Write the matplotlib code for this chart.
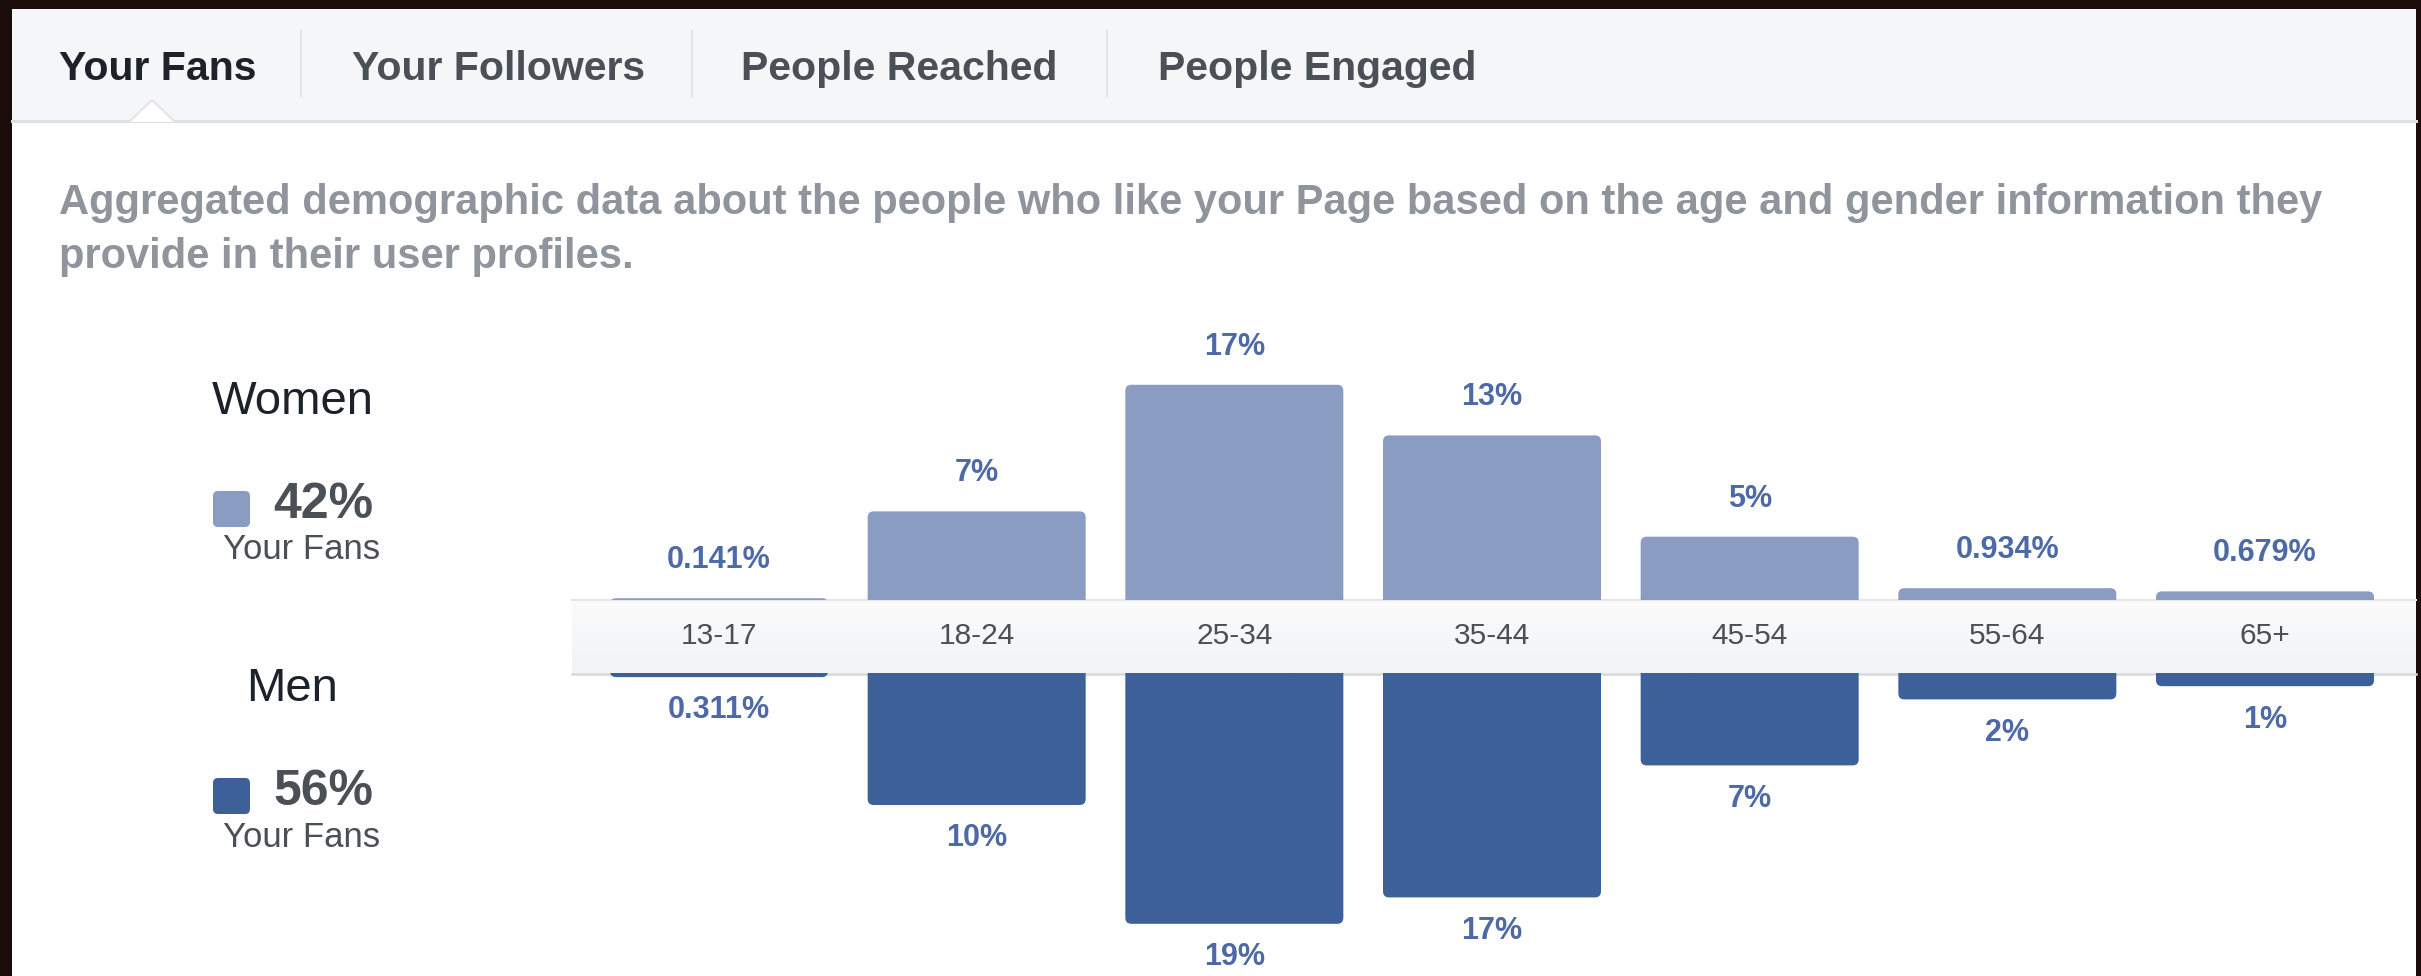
import numpy as np
import matplotlib
matplotlib.use("Agg")
import matplotlib.pyplot as plt
from matplotlib.patches import Rectangle, FancyBboxPatch, Polygon

plt.rcParams['font.family'] = ['Liberation Sans', 'DejaVu Sans']

# Dados
faixas = ['13-17', '18-24', '25-34', '35-44', '45-54', '55-64', '65+']
mulheres = [0.141, 7, 17, 13, 5, 0.934, 0.679]
homens = [0.311, 10, 19, 17, 7, 2, 1]
rot_mulheres = ['0.141%', '7%', '17%', '13%', '5%', '0.934%', '0.679%']
rot_homens = ['0.311%', '10%', '19%', '17%', '7%', '2%', '1%']

abas = ['Your Fans', 'Your Followers', 'People Reached', 'People Engaged']
descricao = ['Aggregated demographic data about the people who like your Page based on the age and gender information they',
             'provide in their user profiles.']
total_mulheres = '42%'
total_homens = '56%'

cor_mulheres = '#8a9cc2'
cor_homens = '#3c6097'
cor_rotulo = '#4d6aa6'

W, H = 2421, 976
fig = plt.figure(figsize=(W / 100, H / 100), dpi=100)
fig.patch.set_facecolor('#1a0c08')

# fundo em pixels
bg = fig.add_axes([0, 0, 1, 1])
bg.set_xlim(0, W)
bg.set_ylim(H, 0)
bg.axis('off')

bg.add_patch(Rectangle((12, 9), 2416 - 12, H - 9, facecolor='white', edgecolor='none'))
bg.add_patch(Rectangle((12, 9), 2416 - 12, 111, facecolor='#f5f6f7', edgecolor='none'))
bg.plot([12, 2416], [121, 121], color='#dddfe2', lw=2.2)
# seta da aba ativa
bg.add_patch(Polygon([[130, 122], [152, 100], [174, 122]], closed=True, facecolor='white', edgecolor='none', zorder=3))
bg.plot([130, 152, 174], [121, 100, 121], color='#e2e4e8', lw=1.5, zorder=4)

# abas
x_abas = [59, 352, 741, 1158]
for i, (txt, xa) in enumerate(zip(abas, x_abas)):
    bg.text(xa, 80, txt, fontsize=29.5, fontweight='bold', va='baseline', ha='left',
            color='#1d2129' if i == 0 else '#4b4f56')
for xs in [301, 692, 1107]:
    bg.plot([xs, xs], [31, 96], color='#e3e5e8', lw=1.5)

bg.text(59, 214, descricao[0], fontsize=30, fontweight='bold', color='#90949c', va='baseline')
bg.text(59, 268, descricao[1], fontsize=30, fontweight='bold', color='#90949c', va='baseline')

# legenda lateral
bg.text(212, 414, 'Women', fontsize=34, color='#1d2129', va='baseline')
bg.add_patch(FancyBboxPatch((213, 491), 37, 36, boxstyle='round,pad=0,rounding_size=5',
                            facecolor=cor_mulheres, edgecolor='none'))
bg.text(273, 518, total_mulheres, fontsize=36, fontweight='bold', color='#4b4f56', va='baseline')
bg.text(223, 559, 'Your Fans', fontsize=25, color='#4b4f56', va='baseline')

bg.text(246, 701, 'Men', fontsize=34, color='#1d2129', va='baseline')
bg.add_patch(FancyBboxPatch((213, 778), 37, 36, boxstyle='round,pad=0,rounding_size=5',
                            facecolor=cor_homens, edgecolor='none'))
bg.text(273, 805, total_homens, fontsize=36, fontweight='bold', color='#4b4f56', va='baseline')
bg.text(223, 847, 'Your Fans', fontsize=25, color='#4b4f56', va='baseline')

# faixa do eixo
grad = np.linspace(0, 1, 50).reshape(-1, 1)
bg.imshow(grad, extent=[572, 2416, 673, 600], cmap=matplotlib.colors.LinearSegmentedColormap.from_list(
    'faixa', ['#fbfbfc', '#f2f3f5']), aspect='auto', zorder=1)
bg.plot([572, 2416], [600, 600], color='#e4e5e9', lw=1.5, zorder=2)
bg.plot([572, 2416], [673.5, 673.5], color='#d6d8dc', lw=1.8, zorder=2)
bg.set_xlim(0, W)
bg.set_ylim(H, 0)

# eixos das barras
esq, dir_ = 572, 2416
px_cat = (2265 - 719) / 6
xlim = ((esq - 719) / px_cat, (dir_ - 719) / px_cat)
x = np.arange(len(faixas))
larg = 218 / px_cat

px_w = 12.66
px_m = 13.2
ax_w = fig.add_axes([esq / W, (H - 600) / H, (dir_ - esq) / W, 300 / H])
ax_m = fig.add_axes([esq / W, 0, (dir_ - esq) / W, 303 / H])
ax_w.set_ylim(0, 300 / px_w)
ax_m.set_ylim(-303 / px_m, 0)

raio = 6 / px_cat
for ax, vals, cor, px, sinal in [(ax_w, mulheres, cor_mulheres, px_w, 1), (ax_m, homens, cor_homens, px_m, -1)]:
    ax.set_xlim(*xlim)
    ax.set_facecolor('none')
    for s in ax.spines.values():
        s.set_visible(False)
    ax.set_yticks([])
    barras = ax.bar(x, [sinal * v for v in vals], width=larg, color=cor)
    aspecto = (1 / px) / (1 / px_cat)
    ext = 0.6
    for b in barras:
        bx, by, bw, bh = b.get_x(), b.get_y(), b.get_width(), b.get_height()
        b.set_visible(False)
        if sinal > 0:
            y0, h = -ext, bh + ext
        else:
            y0, h = by + bh, -bh + ext
        ax.add_patch(FancyBboxPatch((bx, y0), bw, h,
                                    boxstyle='round,pad=0,rounding_size=%f' % raio,
                                    mutation_aspect=aspecto, facecolor=cor, edgecolor='none'))

for xi, v, r in zip(x, mulheres, rot_mulheres):
    ax_w.annotate(r, (xi, v), xytext=(0, 27.4), textcoords='offset points', ha='center', va='center',
                  fontsize=22, fontweight='bold', color=cor_rotulo)
for xi, v, r in zip(x, homens, rot_homens):
    ax_m.annotate(r, (xi, -v), xytext=(0, -24), textcoords='offset points', ha='center', va='center',
                  fontsize=22, fontweight='bold', color=cor_rotulo)

ax_w.set_xticks(x, faixas)
ax_w.tick_params(axis='x', length=0, pad=25.9, labelsize=21.5, labelcolor='#4b4f56')
for lbl in ax_w.get_xticklabels():
    lbl.set_va('center')
ax_m.set_xticks([])

fig.savefig('out.png', dpi=100, facecolor=fig.get_facecolor())
